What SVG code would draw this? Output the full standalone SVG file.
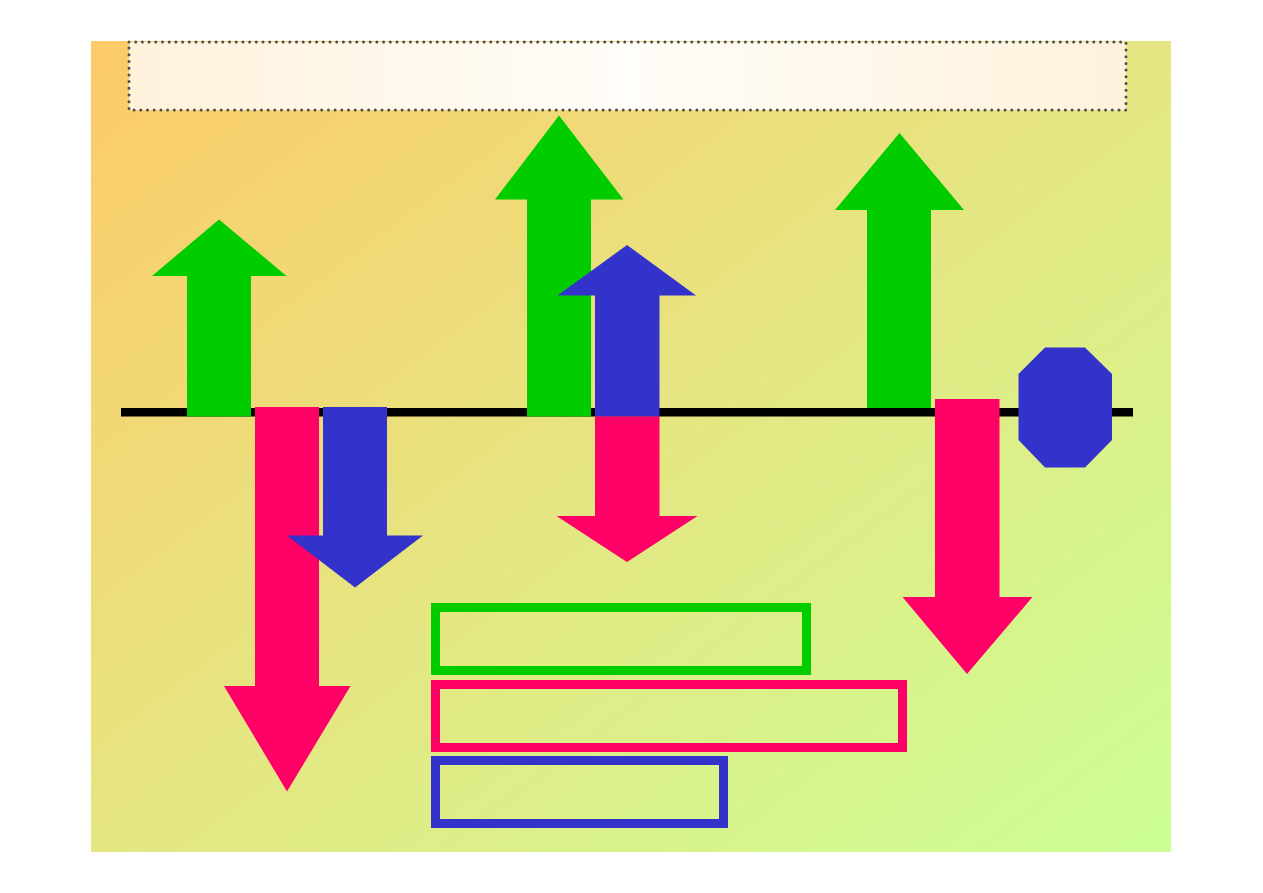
<svg xmlns="http://www.w3.org/2000/svg" width="1263" height="893" viewBox="0 0 1263 893">
<defs>
<linearGradient id="bg" x1="0" y1="0" x2="1" y2="1">
<stop offset="0" stop-color="#FDCA68"/>
<stop offset="0.5" stop-color="#E5E682"/>
<stop offset="1" stop-color="#CCFF94"/>
</linearGradient>
<linearGradient id="hdr" x1="0" y1="0" x2="1" y2="0">
<stop offset="0" stop-color="#FFF2DC"/>
<stop offset="0.5" stop-color="#FFFDF8"/>
<stop offset="1" stop-color="#FFF2DC"/>
</linearGradient>
<style>
.g{fill:#00CC00}
.p{fill:#FF0066}
.b{fill:#3333CC}
.box{fill:none;stroke-width:9}
</style>
</defs>
<rect x="0" y="0" width="1263" height="893" fill="#FFFFFF"/>
<rect x="91" y="41" width="1080" height="811" fill="url(#bg)"/>
<g id="header">
<rect x="129" y="42" width="997" height="68" fill="url(#hdr)" stroke="#4D4D4D" stroke-width="3" stroke-dasharray="0 6.7" stroke-linecap="round"/>
</g>
<g id="connectors">
<rect x="121" y="408" width="1012" height="8.5" fill="#000000"/>
</g>
<g id="green-up-1"><polygon class="g" points="187,416.5 187,276 152,276 219,219.5 286.5,276 251,276 251,416.5"/></g>
<g id="pink-down-1"><polygon class="p" points="255,407 319,407 319,686 350.5,686 287,791.5 224,686 255,686"/></g>
<g id="blue-down-1"><polygon class="b" points="323,407 387,407 387,535.5 423,535.5 355,587.5 287,535.5 323,535.5"/></g>
<g id="green-up-2"><polygon class="g" points="527,416.5 527,199.5 495,199.5 559,115.5 623.5,199.5 591,199.5 591,416.5"/></g>
<g id="blue-up-2"><polygon class="b" points="595,416.5 595,295.5 557.5,295.5 627,245 696,295.5 659.5,295.5 659.5,416.5"/></g>
<g id="pink-down-2"><polygon class="p" points="595,416.5 659.5,416.5 659.5,516 697.5,516 627,562 556.5,516 595,516"/></g>
<g id="green-up-3"><polygon class="g" points="867,408 867,210 835,210 899.5,133 964,210 931,210 931,408"/></g>
<g id="pink-down-3"><polygon class="p" points="935,399 999.5,399 999.5,597 1032.5,597 967,674 902.5,597 935,597"/></g>
<g id="octagon"><polygon class="b" points="1045,347.5 1085,347.5 1112,374 1112,440 1085,467.5 1045,467.5 1018.5,440 1018.5,374"/></g>
<g id="legend-green"><rect class="box" x="435.5" y="607.5" width="371" height="63" stroke="#00CC00"/></g>
<g id="legend-pink"><rect class="box" x="435.5" y="684.5" width="467" height="63" stroke="#FF0066"/></g>
<g id="legend-blue"><rect class="box" x="435.5" y="760.5" width="288" height="63" stroke="#3333CC"/></g>
</svg>
